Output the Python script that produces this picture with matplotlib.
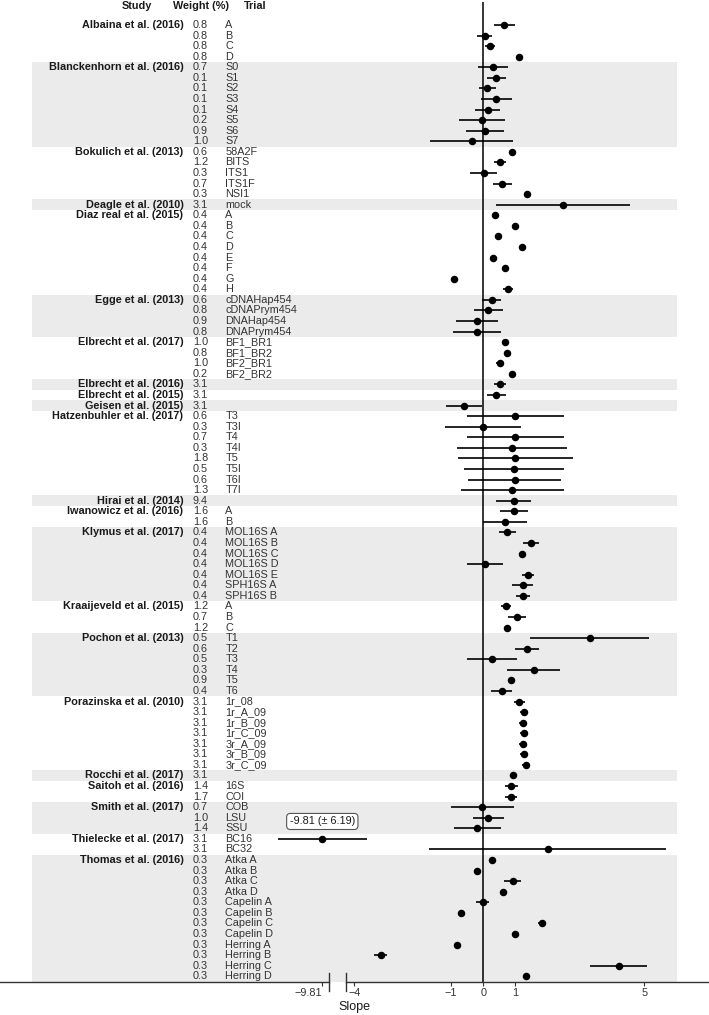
import numpy as np
import matplotlib.pyplot as plt
from matplotlib.transforms import blended_transform_factory

plt.rcParams['font.family'] = ['Liberation Sans', 'DejaVu Sans']

# ---- data ----
studies = [
    "Albaina et al. (2016)", "Blanckenhorn et al. (2016)", "Bokulich et al. (2013)",
    "Deagle et al. (2010)", "Diaz real et al. (2015)", "Egge et al. (2013)",
    "Elbrecht et al. (2017)", "Elbrecht et al. (2016)", "Elbrecht et al. (2015)",
    "Geisen et al. (2015)", "Hatzenbuhler et al. (2017)", "Hirai et al. (2014)",
    "Iwanowicz et al. (2016)", "Klymus et al. (2017)", "Kraaijeveld et al. (2015)",
    "Pochon et al. (2013)", "Porazinska et al. (2010)", "Rocchi et al. (2017)",
    "Saitoh et al. (2016)", "Smith et al. (2017)", "Thielecke et al. (2017)",
    "Thomas et al. (2016)",
]

trials = [
    ["A", "B", "C", "D"],
    ["S0", "S1", "S2", "S3", "S4", "S5", "S6", "S7"],
    ["58A2F", "BITS", "ITS1", "ITS1F", "NSI1"],
    ["mock"],
    ["A", "B", "C", "D", "E", "F", "G", "H"],
    ["cDNAHap454", "cDNAPrym454", "DNAHap454", "DNAPrym454"],
    ["BF1_BR1", "BF1_BR2", "BF2_BR1", "BF2_BR2"],
    [""],
    [""],
    [""],
    ["T3", "T3I", "T4", "T4I", "T5", "T5I", "T6I", "T7I"],
    [""],
    ["A", "B"],
    ["MOL16S A", "MOL16S B", "MOL16S C", "MOL16S D", "MOL16S E", "SPH16S A", "SPH16S B"],
    ["A", "B", "C"],
    ["T1", "T2", "T3", "T4", "T5", "T6"],
    ["1r_08", "1r_A_09", "1r_B_09", "1r_C_09", "3r_A_09", "3r_B_09", "3r_C_09"],
    [""],
    ["16S", "COI"],
    ["COB", "LSU", "SSU"],
    ["BC16", "BC32"],
    ["Atka A", "Atka B", "Atka C", "Atka D", "Capelin A", "Capelin B",
     "Capelin C", "Capelin D", "Herring A", "Herring B", "Herring C", "Herring D"],
]

weights = [
    [0.8, 0.8, 0.8, 0.8],
    [0.7, 0.1, 0.1, 0.1, 0.1, 0.2, 0.9, 1.0],
    [0.6, 1.2, 0.3, 0.7, 0.3],
    [3.1],
    [0.4, 0.4, 0.4, 0.4, 0.4, 0.4, 0.4, 0.4],
    [0.6, 0.8, 0.9, 0.8],
    [1.0, 0.8, 1.0, 0.2],
    [3.1],
    [3.1],
    [3.1],
    [0.6, 0.3, 0.7, 0.3, 1.8, 0.5, 0.6, 1.3],
    [9.4],
    [1.6, 1.6],
    [0.4, 0.4, 0.4, 0.4, 0.4, 0.4, 0.4],
    [1.2, 0.7, 1.2],
    [0.5, 0.6, 0.5, 0.3, 0.9, 0.4],
    [3.1, 3.1, 3.1, 3.1, 3.1, 3.1, 3.1],
    [3.1],
    [1.4, 1.7],
    [0.7, 1.0, 1.4],
    [3.1, 3.1],
    [0.3] * 12,
]

slopes = [
    [0.65, 0.05, 0.21, 1.11],
    [0.31, 0.41, 0.12, 0.40, 0.14, -0.05, 0.06, -0.36],
    [0.88, 0.51, 0.02, 0.59, 1.36],
    [2.49],
    [0.36, 1.00, 0.47, 1.21, 0.30, 0.68, -0.92, 0.76],
    [0.26, 0.16, -0.20, -0.20],
    [0.68, 0.73, 0.51, 0.88],
    [0.52],
    [0.41],
    [-0.60],
    [1.00, 0.00, 1.00, 0.88, 1.00, 0.96, 0.97, 0.90],
    [0.94],
    [0.96, 0.67],
    [0.75, 1.49, 1.20, 0.04, 1.38, 1.22, 1.23],
    [0.71, 1.05, 0.73],
    [3.30, 1.37, 0.26, 1.56, 0.85, 0.57],
    [1.12, 1.26, 1.22, 1.26, 1.24, 1.26, 1.33],
    [0.93],
    [0.87, 0.86],
    [-0.03, 0.16, -0.18],
    [-9.81, 2.00],
    [0.26, -0.19, 0.91, 0.60, -0.02, -0.70, 1.81, 0.97, -0.81, -3.19, 4.20, 1.34],
]

ses = [
    [0.32, 0.23, 0.15, 0.05],
    [0.47, 0.30, 0.26, 0.48, 0.39, 0.71, 0.59, 1.29],
    [0.09, 0.18, 0.42, 0.29, 0.04],
    [2.08],
    [0.04, 0.04, 0.04, 0.04, 0.04, 0.04, 0.04, 0.15],
    [0.30, 0.44, 0.65, 0.75],
    [0.10, 0.06, 0.11, 0.04],
    [0.20],
    [0.30],
    [0.55],
    [1.52, 1.18, 1.50, 1.71, 1.78, 1.55, 1.44, 1.60],
    [0.55],
    [0.43, 0.68],
    [0.27, 0.25, 0.05, 0.56, 0.19, 0.32, 0.21],
    [0.16, 0.28, 0.05],
    [1.84, 0.37, 0.78, 0.83, 0.07, 0.33],
    [0.16, 0.11, 0.12, 0.12, 0.12, 0.12, 0.12],
    [0.05],
    [0.21, 0.20],
    [0.98, 0.48, 0.72],
    [6.19, 3.69],
    [0.04, 0.04, 0.27, 0.04, 0.20, 0.04, 0.12, 0.04, 0.04, 0.20, 0.88, 0.04],
]

xtick_values = [-9.81, -4, -1, 0, 1, 5]

# values below the break are squeezed next to the axis break
BREAK_AT = -4.5
OUTLIER_POS = -5.0
OUTLIER_SCALE = 0.221
outlier = min(min(s) for s in slopes)


def to_axis(v):
    v = np.asarray(v, dtype=float)
    return np.where(v < BREAK_AT, OUTLIER_POS + (v - outlier) * OUTLIER_SCALE, v)


# flatten rows
row_slope = np.array([v for grp in slopes for v in grp])
row_se = np.array([v for grp in ses for v in grp])
n_rows = len(row_slope)
rows = np.arange(n_rows)

fig = plt.figure(figsize=(7.09, 10.15), dpi=100)
ax = fig.add_axes([0, 0.0325, 1, 0.9655])
ax.set_xlim(-15.01, 7.01)
ax.set_ylim(n_rows - 0.46, -2.18)
for sp in ax.spines.values():
    sp.set_visible(False)
ax.set_yticks([])

tr = blended_transform_factory(ax.transAxes, ax.transData)
fs = 7.8
dark = '#1a1a1a'
mid = '#333333'

# header
ax.text(0.193, -1.8, "Study", transform=tr, ha='center', va='center',
        fontsize=fs, fontweight='bold', color=dark)
ax.text(0.2835, -1.8, "Weight (%)", transform=tr, ha='center', va='center',
        fontsize=fs, fontweight='bold', color=dark)
ax.text(0.3605, -1.8, "Trial", transform=tr, ha='center', va='center',
        fontsize=fs, fontweight='bold', color=dark)

# bands and labels
start = 0
for i, name in enumerate(studies):
    n = len(trials[i])
    if i % 2 == 1:
        ax.axhspan(start - 0.5, start + n - 0.5, xmin=0.0451, xmax=0.955,
                   color='#ebebeb', lw=0, zorder=0)
    ax.text(0.2588, start, name, transform=tr, ha='right', va='center',
            fontsize=fs, fontweight='bold', color=dark)
    for j in range(n):
        ax.text(0.2722, start + j, f"{weights[i][j]:.1f}", transform=tr,
                ha='left', va='center', fontsize=fs, color=mid)
        ax.text(0.318, start + j, trials[i][j], transform=tr,
                ha='left', va='center', fontsize=fs, color=mid)
    start += n

# zero line
ax.axvline(0, color='black', lw=1.1, zorder=1)

# estimates
ax.hlines(rows, to_axis(row_slope - row_se), to_axis(row_slope + row_se),
          color='black', lw=1.2, zorder=2)
ax.plot(to_axis(row_slope), rows, 'o', color='black', ms=4.4, zorder=3)

# label for the squeezed outlier
k = int(np.argmin(row_slope))
ax.text(float(to_axis(row_slope[k])), k - 1.65,
        f"{row_slope[k]:.2f} (± {row_se[k]:.2f})", ha='center', va='center',
        fontsize=fs, color=dark, zorder=4,
        bbox=dict(boxstyle='round,pad=0.28,rounding_size=0.35', fc='white',
                  ec='#555555', lw=0.8))

# broken x axis
xtr = blended_transform_factory(ax.transData, ax.transAxes)
b1, b2 = -4.79, -4.27
ax.plot([-15.01, b1], [0, 0], transform=xtr, color=mid, lw=1.0, clip_on=False)
ax.plot([b2, 7.01], [0, 0], transform=xtr, color=mid, lw=1.0, clip_on=False)
for b in (b1, b2):
    ax.plot([b, b], [-0.0088, 0.0088], transform=xtr, color=mid, lw=1.0,
            clip_on=False)

ax.set_xticks(to_axis(xtick_values))
ax.set_xticklabels([f"{v:g}".replace('-', '\u2212') for v in xtick_values],
                   fontsize=fs, color=mid)
ax.get_xticklabels()[0].set_horizontalalignment('right')
ax.tick_params(axis='x', length=3, width=0.8, color=mid, pad=1.5)
ax.text(-4.0, n_rows + 1.9, "Slope", ha='center', va='center', fontsize=9,
        color=dark, clip_on=False)

fig.savefig("out.png", dpi=100)
